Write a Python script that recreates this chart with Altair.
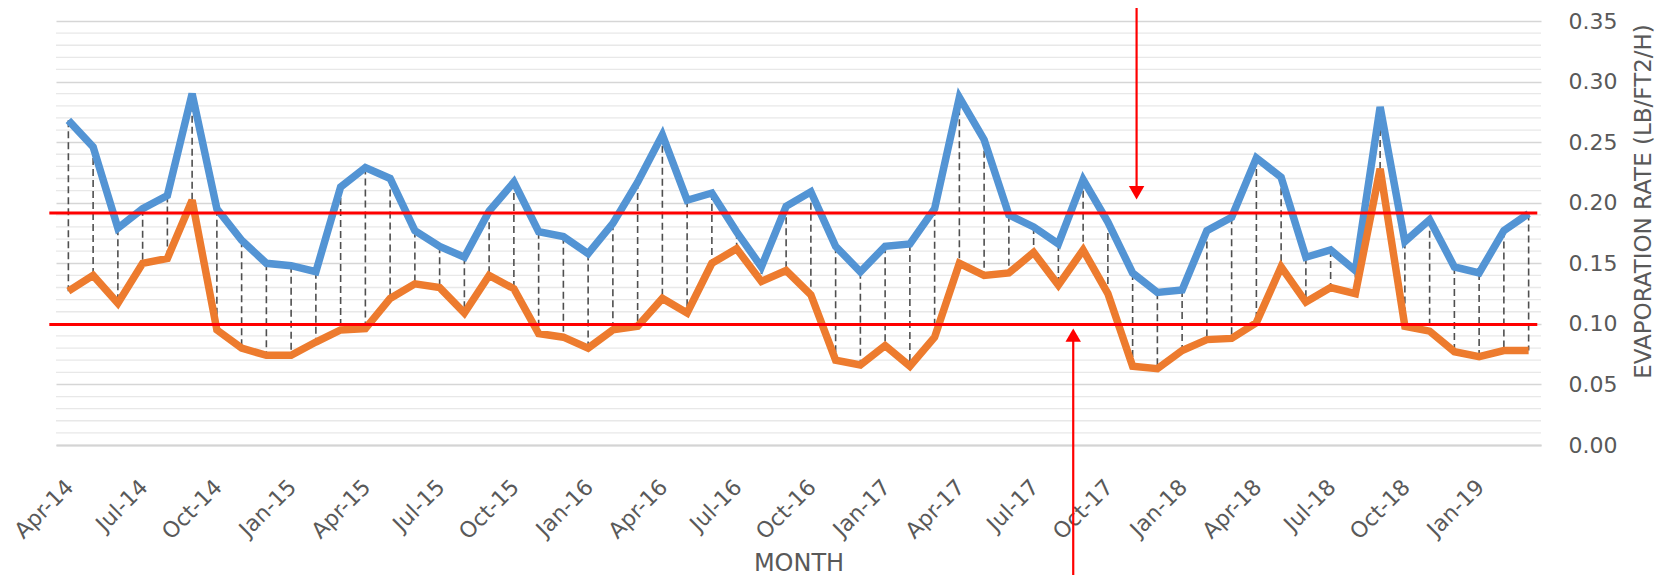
import altair as alt
import pandas as pd

months = [
    "Apr-14", "May-14", "Jun-14", "Jul-14", "Aug-14", "Sep-14", "Oct-14", "Nov-14", "Dec-14",
    "Jan-15", "Feb-15", "Mar-15", "Apr-15", "May-15", "Jun-15", "Jul-15", "Aug-15", "Sep-15",
    "Oct-15", "Nov-15", "Dec-15",
    "Jan-16", "Feb-16", "Mar-16", "Apr-16", "May-16", "Jun-16", "Jul-16", "Aug-16", "Sep-16",
    "Oct-16", "Nov-16", "Dec-16",
    "Jan-17", "Feb-17", "Mar-17", "Apr-17", "May-17", "Jun-17", "Jul-17", "Aug-17", "Sep-17",
    "Oct-17", "Nov-17", "Dec-17",
    "Jan-18", "Feb-18", "Mar-18", "Apr-18", "May-18", "Jun-18", "Jul-18", "Aug-18", "Sep-18",
    "Oct-18", "Nov-18", "Dec-18",
    "Jan-19", "Feb-19", "Mar-19",
]

upper_series = [
    0.268, 0.246, 0.179, 0.195, 0.206, 0.290, 0.195, 0.169, 0.150, 0.148,
    0.143, 0.213, 0.229, 0.220, 0.177, 0.164, 0.155, 0.193, 0.217, 0.176,
    0.172, 0.158, 0.183, 0.217, 0.256, 0.202, 0.208, 0.176, 0.147, 0.197,
    0.209, 0.164, 0.143, 0.164, 0.166, 0.195, 0.287, 0.252, 0.190, 0.180,
    0.166, 0.219, 0.184, 0.142, 0.126, 0.128, 0.177, 0.188, 0.237, 0.221,
    0.155, 0.161, 0.144, 0.279, 0.168, 0.186, 0.147, 0.142, 0.177, 0.191,
]

lower_series = [
    0.127, 0.140, 0.117, 0.150, 0.154, 0.202, 0.095, 0.080, 0.074, 0.074,
    0.085, 0.095, 0.096, 0.121, 0.133, 0.130, 0.109, 0.140, 0.129, 0.092,
    0.089, 0.080, 0.095, 0.098, 0.121, 0.109, 0.150, 0.162, 0.135, 0.144,
    0.124, 0.070, 0.066, 0.082, 0.065, 0.089, 0.150, 0.140, 0.142, 0.159,
    0.132, 0.161, 0.125, 0.065, 0.063, 0.078, 0.087, 0.088, 0.101, 0.147,
    0.118, 0.130, 0.125, 0.228, 0.098, 0.094, 0.077, 0.073, 0.078, 0.078,
]

y_ticks = [0.0, 0.05, 0.10, 0.15, 0.20, 0.25, 0.30, 0.35]
minor_ticks = [round(i * 0.01, 2) for i in range(1, 35) if i % 5 != 0]

# reference (limit) lines and arrow annotations
limit_values = [0.1915, 0.0995]
limit_x_start, limit_x_end = -0.77, 59.35
arrow_down = {"x": 43.16, "y_from": 0.37, "y_to": 0.2082}
arrow_up = {"x": 40.6, "y_from": -0.13, "y_to": 0.0907}

FONT = "DejaVu Sans"
TEXT = "#595959"
BLUE = "#5394D4"
ORANGE = "#ED7B2E"

df = pd.DataFrame({
    "idx": list(range(len(months))),
    "month": months,
    "upper": upper_series,
    "lower": lower_series,
})

label_expr = "[" + ",".join(f"'{m}'" for m in months) + "][datum.value]"

x_scale = alt.Scale(domain=[-0.5, len(months) - 0.5], nice=False, zero=False)
y_scale = alt.Scale(domain=[0, 0.35], nice=False, zero=True)

x_axis = alt.Axis(
    values=list(range(0, len(months), 3)),
    labelExpr=label_expr,
    grid=False, ticks=False,
    domain=True, domainColor="#D4D4D4", domainWidth=2,
    labelAngle=315, labelAlign="right", labelBaseline="top",
    labelPadding=31, labelOffset=-6,
    labelFont=FONT, labelFontSize=22, labelColor=TEXT,
    labelOverlap=False, labelBound=False, labelFlush=False,
    title="MONTH", titleFont=FONT, titleFontSize=24, titleFontWeight="normal",
    titleColor=TEXT, titleY=125, titleBaseline="alphabetic",
)

y_axis = alt.Axis(
    orient="right", values=y_ticks, format=".2f",
    grid=True, gridColor="#D6D6D6", gridWidth=1.4,
    ticks=False, domain=False,
    labelPadding=27, labelAlign="left", labelBaseline="middle",
    labelFont=FONT, labelFontSize=22, labelColor=TEXT,
    title="EVAPORATION RATE (LB/FT2/H)", titleFont=FONT, titleFontSize=23,
    titleFontWeight="normal", titleColor=TEXT, titleAngle=270,
    titleX=102, titleY=180, titleAlign="center", titleBaseline="middle",
)

X = lambda f: alt.X(f, type="quantitative", scale=x_scale, axis=x_axis)
Y = lambda f: alt.Y(f, type="quantitative", scale=y_scale, axis=y_axis)

minor = alt.Chart(pd.DataFrame({"v": minor_ticks})).mark_rule(
    color="#E8E8E8", strokeWidth=1.3
).encode(y=Y("v"))

base = alt.Chart(df)

hilo = base.mark_rule(color="#4F4F4F", strokeWidth=1.6, strokeDash=[7, 4]).encode(
    x=X("idx"), y=Y("upper"), y2="lower"
)

upper_line = base.mark_line(color=BLUE, strokeWidth=7.5, strokeJoin="miter", strokeMiterLimit=3).encode(
    x=X("idx"), y=Y("upper")
)
lower_line = base.mark_line(color=ORANGE, strokeWidth=7.5, strokeJoin="miter", strokeMiterLimit=3).encode(
    x=X("idx"), y=Y("lower")
)

limits_df = pd.DataFrame({
    "v": limit_values,
    "x0": [limit_x_start] * len(limit_values),
    "x1": [limit_x_end] * len(limit_values),
})
limits = alt.Chart(limits_df).mark_rule(color="#FF0000", strokeWidth=3).encode(
    x=X("x0"), x2="x1", y=Y("v")
)

arrows_df = pd.DataFrame({
    "x": [arrow_down["x"], arrow_up["x"]],
    "y0": [arrow_down["y_from"], arrow_up["y_from"]],
    "y1": [arrow_down["y_to"], arrow_up["y_to"]],
    "shape": ["triangle-down", "triangle-up"],
})
arrow_lines = alt.Chart(arrows_df).mark_rule(color="#FF0000", strokeWidth=2.2).encode(
    x=X("x"), y=Y("y0"), y2="y1"
)
arrow_heads = alt.Chart(arrows_df).mark_point(
    filled=True, color="#FF0000", opacity=1, size=240
).encode(
    x=X("x"), y=Y("y1"),
    shape=alt.Shape("shape:N", scale=None, legend=None),
)

chart = alt.layer(
    minor, hilo, upper_line, lower_line, limits, arrow_lines, arrow_heads
).properties(
    width=1485, height=424,
    padding={"left": 48, "top": 13, "right": 118, "bottom": 130},
    autosize=alt.AutoSizeParams(type="none"),
).configure_view(stroke=None)

chart.save("out.html", embed_options={"renderer": "svg", "actions": False})
